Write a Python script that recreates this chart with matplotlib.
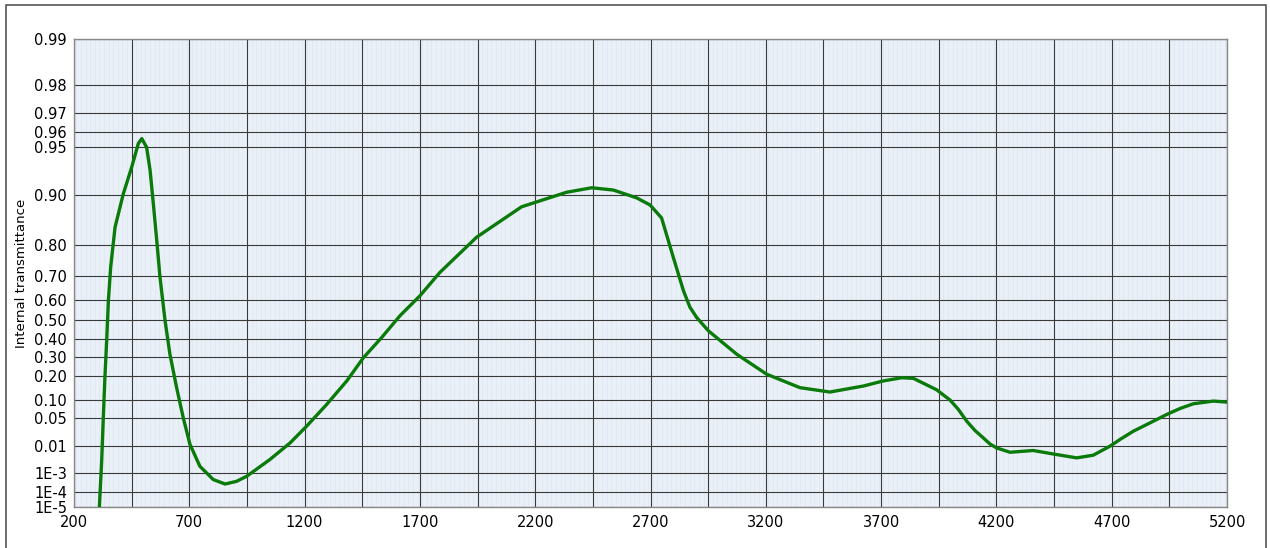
import numpy as np
import matplotlib
matplotlib.use('Agg')
import matplotlib.pyplot as plt
from matplotlib.patches import Rectangle

# wavelength (nm) and internal transmittance
wavelength = [310, 320, 327, 334, 342, 349, 359, 378, 414, 450, 479, 494, 515,
              530, 544, 559, 573, 595, 616, 645, 674, 703, 746, 804, 855, 905,
              949, 1050, 1137, 1209, 1296, 1383, 1455, 1534, 1614, 1700, 1787,
              1946, 2141, 2336, 2445, 2539, 2640, 2698, 2748, 2799, 2843, 2871,
              2900, 2951, 3074, 3204, 3348, 3478, 3623, 3710, 3790, 3840, 3941,
              3999, 4035, 4071, 4107, 4143, 4172, 4201, 4259, 4360, 4447, 4548,
              4620, 4693, 4736, 4794, 4866, 4939, 4997, 5054, 5141, 5200]
transmittance = [1e-5, 3.1e-3, 0.049, 0.193, 0.398, 0.596, 0.732, 0.843, 0.902,
                 0.933, 0.9527, 0.956, 0.950, 0.930, 0.887, 0.811, 0.695, 0.497,
                 0.315, 0.148, 0.049, 0.0112, 1.95e-3, 4.9e-4, 2.9e-4, 4.0e-4,
                 7.1e-4, 3.6e-3, 0.0124, 0.0331, 0.0857, 0.178, 0.296, 0.407,
                 0.524, 0.619, 0.714, 0.820, 0.882, 0.904, 0.910, 0.907, 0.896,
                 0.885, 0.862, 0.764, 0.641, 0.566, 0.515, 0.444, 0.315, 0.210,
                 0.148, 0.130, 0.155, 0.178, 0.193, 0.190, 0.139, 0.100, 0.0706,
                 0.0424, 0.0263, 0.0171, 0.0116, 0.0088, 0.0064, 0.0073, 0.0056,
                 0.0041, 0.0051, 0.010, 0.0155, 0.0253, 0.0389, 0.0574, 0.0734,
                 0.0876, 0.0965, 0.093]

y_ticks = [0.99, 0.98, 0.97, 0.96, 0.95, 0.90, 0.80, 0.70, 0.60, 0.50, 0.40,
           0.30, 0.20, 0.10, 0.05, 0.01, 1e-3, 1e-4, 1e-5]
y_labels = ['0.99', '0.98', '0.97', '0.96', '0.95', '0.90', '0.80', '0.70',
            '0.60', '0.50', '0.40', '0.30', '0.20', '0.10', '0.05', '0.01',
            '1E-3', '1E-4', '1E-5']
x_labels = [200, 700, 1200, 1700, 2200, 2700, 3200, 3700, 4200, 4700, 5200]


# double-log transmittance scale
def fwd(t):
    t = np.clip(np.asarray(t, dtype=float), 1e-12, 1 - 1e-12)
    return -np.log10(-np.log10(t))


def inv(u):
    u = np.asarray(u, dtype=float)
    return 10 ** (-(10 ** (-u)))


fig = plt.figure(figsize=(12.7, 5.48), dpi=100)
ax = fig.add_axes([74 / 1270, 1 - 507 / 548, (1227 - 74) / 1270, (507 - 39) / 548])
ax.set_facecolor('#eaf0f8')

ax.set_yscale('function', functions=(fwd, inv))
ax.set_xlim(200, 5200)
ax.set_ylim(1e-5, 0.99)

# faint background stripes
for xm in np.arange(210, 5200, 20):
    ax.axvline(xm, color='#e0e7f2', lw=0.5, zorder=0)

ax.set_xticks(x_labels)
ax.set_xticklabels([str(v) for v in x_labels])
ax.set_xticks(np.arange(200, 5201, 250), minor=True)
ax.set_yticks(y_ticks)
ax.set_yticklabels(y_labels)
ax.yaxis.set_minor_locator(matplotlib.ticker.NullLocator())

ax.grid(True, which='both', axis='x', color='#3a3a3a', lw=0.8, zorder=1)
ax.grid(True, which='major', axis='y', color='#3a3a3a', lw=0.8, zorder=1)
ax.tick_params(which='both', length=0, labelsize=10.5, pad=5)
ax.tick_params(axis='x', pad=6)
for s in ax.spines.values():
    s.set_color('#888888')
    s.set_linewidth(1.0)

ax.plot(wavelength, transmittance, color='#0a7a0a', lw=2.4, zorder=3,
        solid_joinstyle='round')
ax.set_ylabel('Internal transmittance', fontsize=9.5, labelpad=4)

# outer frame
fig.patches.append(Rectangle((6 / 1270, -0.05), 1260 / 1270, 1.05 - 5 / 548,
                             transform=fig.transFigure, fill=False,
                             edgecolor='#555555', lw=1.2))

fig.savefig('out.png', dpi=100)
